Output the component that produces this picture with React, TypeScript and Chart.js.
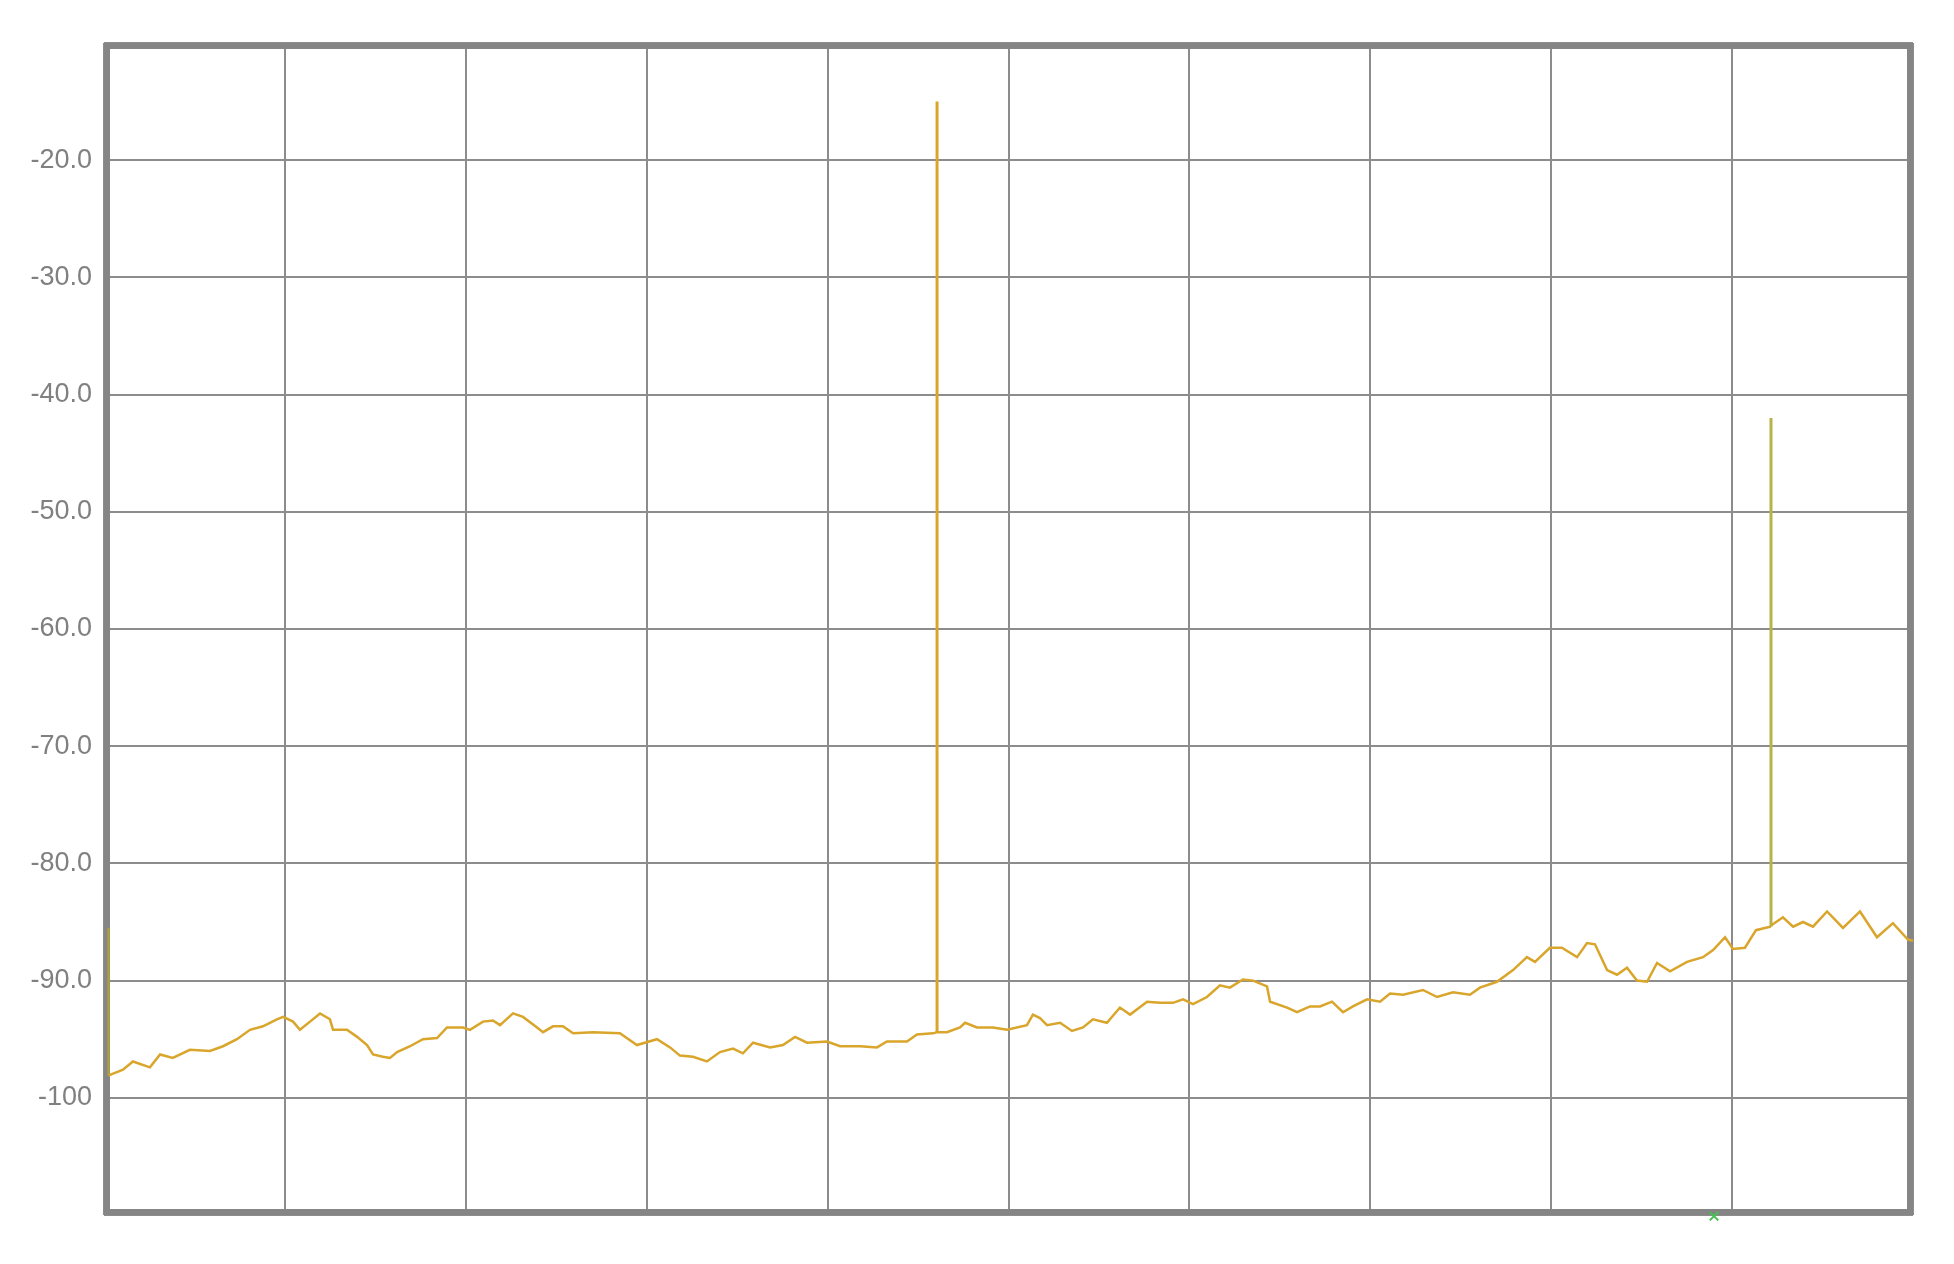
import React, { useEffect, useRef } from 'react';
import { Chart, registerables } from 'chart.js';

Chart.register(...registerables);

// Sweep position (0..1000 across the 10 divisions) and level (dBm)
const FREQ = [
  2.5, 2.5, 4, 10.5, 16, 25.4, 31, 38, 47.5, 58.6, 65.8, 73.5, 80.7, 87.9, 95.6, 99,
  104.5, 108.3, 113.9, 119.4, 124.9, 126.6, 134.3, 139.9, 145.4, 148.7, 154.2, 158.1,
  162, 169.2, 176.3, 184.1, 189.6, 198.5, 202.3, 209.5, 215, 218.9, 226.1, 231.6,
  239.4, 242.7, 248.2, 253.7, 259.3, 270.3, 285.2, 294.6, 305.7, 312.9, 318.4, 325.6,
  333.3, 340.5, 347.7, 353.2, 358.8, 368.2, 375.3, 382, 388.6, 399.7, 406.9, 417.9,
  427.3, 432.8, 443.9, 449.4, 458.3, 460.5, 460.5, 460.5, 466, 473.2, 476, 482.6,
  491.4, 499.2, 510.2, 513.5, 517.4, 521.3, 528.5, 535.1, 541.2, 546.7, 554.4, 561.6,
  567.2, 576.6, 583.7, 590.9, 596.5, 602, 609.7, 616.9, 622.4, 629.6, 635.2, 642.9,
  644.6, 654, 659.5, 666.7, 672.2, 678.8, 684.9, 690.4, 698.2, 705.4, 710.9, 718.1,
  729.1, 736.9, 745.7, 755.1, 760.6, 770, 778.9, 786.6, 791, 799.3, 805.9, 814.3,
  819.8, 824.2, 830.9, 836.4, 841.9, 847.4, 853, 858.5, 865.7, 875.1, 883.9, 889.5,
  896.1, 900.5, 907.1, 913.2, 920.9, 921.5, 921.5, 921.5, 928.1, 933.7, 939.2, 944.7,
  952.5, 961.3, 970.7, 980.1, 988.9, 997.2, 1000,
];

const LEVEL = [
  -85.5, -98.1, -98.0, -97.6, -96.9, -97.4, -96.3, -96.6, -95.9, -96.0, -95.6, -95.0, -94.2, -93.9, -93.3, -93.1,
  -93.5, -94.2, -93.5, -92.8, -93.3, -94.2, -94.2, -94.8, -95.5, -96.3, -96.5, -96.6,
  -96.1, -95.6, -95.0, -94.9, -94.0, -94.0, -94.2, -93.5, -93.4, -93.8, -92.8, -93.1,
  -94.0, -94.4, -93.9, -93.9, -94.5, -94.4, -94.5, -95.5, -95.0, -95.7, -96.4, -96.5,
  -96.9, -96.1, -95.8, -96.2, -95.3, -95.7, -95.5, -94.8, -95.3, -95.2, -95.6, -95.6,
  -95.7, -95.2, -95.2, -94.6, -94.5, -94.4, -15.0, -94.4, -94.4, -94.0, -93.6, -94.0,
  -94.0, -94.2, -93.8, -92.9, -93.2, -93.8, -93.6, -94.3, -94.0, -93.3, -93.6, -92.3,
  -92.9, -91.8, -91.9, -91.9, -91.6, -92.0, -91.4, -90.4, -90.6, -89.9, -90.0, -90.5,
  -91.8, -92.3, -92.7, -92.2, -92.2, -91.8, -92.7, -92.2, -91.6, -91.8, -91.1, -91.2,
  -90.8, -91.4, -91.0, -91.2, -90.6, -90.1, -89.1, -88.0, -88.4, -87.2, -87.2, -88.0,
  -86.8, -86.9, -89.1, -89.5, -88.9, -90.0, -90.1, -88.5, -89.2, -88.4, -88.0, -87.4,
  -86.3, -87.3, -87.2, -85.7, -85.4, -85.4, -42.0, -85.3, -84.6, -85.4, -85.0, -85.4,
  -84.1, -85.5, -84.1, -86.3, -85.1, -86.5, -86.6,
];

const Y_TICKS = [-20, -30, -40, -50, -60, -70, -80, -90, -100];
const Y_TICK_LABELS = ['-20.0', '-30.0', '-40.0', '-50.0', '-60.0', '-70.0', '-80.0', '-90.0', '-100'];

const MARKER_FREQ = [890];
const MARKER_LEVEL = [-110.1];

export default function App() {
  const ref = useRef<HTMLCanvasElement>(null);

  useEffect(() => {
    if (!ref.current) return;
    const frame = {
      id: 'frame',
      beforeDatasetsDraw(chart: any) {
        const { ctx, chartArea: a } = chart;
        ctx.save();
        ctx.strokeStyle = '#858585';
        ctx.lineWidth = 6;
        ctx.strokeRect(a.left + 3, a.top + 3, a.right - a.left - 6, a.bottom - a.top - 6);
        ctx.restore();
      },
    };

    const chart = new Chart(ref.current, {
      type: 'line',
      data: {
        datasets: [
          {
            data: FREQ.map((x, i) => ({ x, y: LEVEL[i] })),
            borderColor: '#D9A52B',
            borderWidth: 2.5,
            pointRadius: 0,
            tension: 0,
            fill: false,
            borderJoinStyle: 'miter',
            segment: {
              borderColor: (c: any) => {
                if (c.p0.parsed.x !== c.p1.parsed.x) return undefined;
                if (c.p0.parsed.x < 10) return '#A9A040';
                if (c.p0.parsed.x > 900) return '#B8B24C';
                return undefined;
              },
              borderWidth: (c: any) =>
                c.p0.parsed.x === c.p1.parsed.x && c.p0.parsed.x > 10 ? 3 : undefined,
            },
          } as any,
          {
            type: 'scatter',
            data: MARKER_FREQ.map((x, i) => ({ x, y: MARKER_LEVEL[i] })),
            pointStyle: 'crossRot',
            pointRadius: 6,
            borderColor: '#45C152',
            backgroundColor: '#45C152',
            borderWidth: 2,
            clip: false,
          } as any,
        ],
      },
      options: {
        responsive: false,
        animation: false,
        events: [],
        layout: { padding: { top: 43, right: 41, left: 0, bottom: 0 } },
        plugins: {
          legend: { display: false },
          tooltip: { enabled: false },
          title: { display: false },
        },
        scales: {
          x: {
            type: 'linear',
            min: 0,
            max: 1000,
            ticks: { display: false, stepSize: 100 },
            grid: { color: '#8c8c8c', lineWidth: 2, drawTicks: false },
            border: { display: false },
            afterFit: (s: any) => {
              s.height = 49;
              s.paddingLeft = 0;
              s.paddingRight = 0;
            },
          },
          y: {
            type: 'linear',
            min: -110,
            max: -10,
            ticks: {
              stepSize: 10,
              padding: 12,
              color: '#808080',
              font: { family: '"Liberation Sans", Arial, sans-serif', size: 27 },
              callback: (v: any) => {
                const i = Y_TICKS.indexOf(Number(v));
                return i >= 0 ? Y_TICK_LABELS[i] : '';
              },
            },
            grid: { color: '#8c8c8c', lineWidth: 2, drawTicks: false },
            border: { display: false },
            afterFit: (s: any) => {
              s.width = 104;
              s.paddingTop = 0;
              s.paddingBottom = 0;
            },
          },
        },
      },
      plugins: [frame],
    } as any);

    return () => chart.destroy();
  }, []);

  return (
    <div style={{ position: 'fixed', left: 0, top: 0, width: 1954, height: 1264, background: '#ffffff' }}>
      <canvas ref={ref} width={1954} height={1264} style={{ display: 'block' }} />
    </div>
  );
}
